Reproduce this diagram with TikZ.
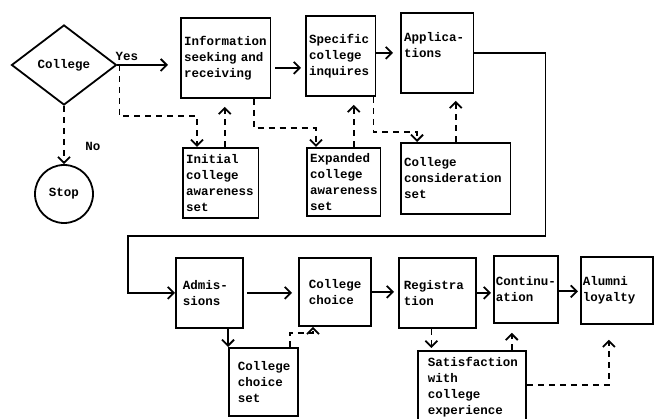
\documentclass[tikz,border=0pt]{standalone}
\usepackage{fontspec}
\setmonofont{Liberation Mono}
\usetikzlibrary{arrows.meta,positioning,shapes.geometric,calc}

\newcommand{\stagefont}{\ttfamily\bfseries\fontsize{12.5}{16}\selectfont}

\begin{document}
\begin{tikzpicture}[x=1pt, y=-1pt,
    stage/.style={draw, line width=1.8pt, anchor=north west, align=left,
                  inner ysep=0pt, font=\stagefont},
    arr/.style={line width=1.8pt, -{Straight Barb[length=6pt,width=12pt]}},
    dasharr/.style={arr, dash pattern=on 6pt off 5pt},
    tag/.style={font=\stagefont}]
    \useasboundingbox (0,0) rectangle (659,419);

    % Decision and exit
    \node[diamond, draw, line width=1.8pt, minimum width=105pt, minimum height=80pt,
          inner sep=0pt, font=\stagefont] (college) at (64,65) {College};
    \node[circle, draw, line width=1.8pt, minimum size=58pt, inner sep=0pt,
          font=\stagefont] (stop) at (64,194) {Stop};
    \node[tag] (no) at (93,146) {No};

    % Search stages (top row)
    \node[stage, minimum width=87pt, minimum height=80pt, text width=83pt] (info) at (180,17)
        {Information\\seeking and\\receiving};
    \node[stage, minimum width=67pt, minimum height=80pt, text width=63pt] (specific) at (305,15)
        {Specific\\college\\inquires};
    \node[stage, minimum width=70pt, minimum height=80pt, text width=66pt] (apps) at (400,12)
        {Applica-\\tions\\~};

    % Sets (second row)
    \node[stage, minimum width=73pt, minimum height=70pt, text width=69pt] (initial) at (182,147)
        {Initial\\college\\awareness\\set};
    \node[stage, minimum width=71pt, minimum height=68pt, text width=67pt] (expanded) at (306,147)
        {Expanded\\college\\awareness\\set};
    \node[stage, minimum width=107pt, minimum height=71pt, text width=103pt] (consid) at (400,142)
        {College\\consideration\\set};

    % Choice stages (third row)
    \node[stage, minimum width=67pt, minimum height=70pt, inner xsep=7pt, text width=53pt] (admis) at (175,257)
        {Admis-\\sions};
    \node[stage, minimum width=72pt, minimum height=68pt, inner xsep=10pt, text width=52pt] (choice) at (298,257)
        {College\\choice};
    \node[stage, minimum width=77pt, minimum height=70pt, inner xsep=5pt, text width=67pt] (regis) at (398,257)
        {Registra\\tion};
    \node[stage, minimum width=64pt, minimum height=67pt, inner xsep=2pt, text width=60pt] (contin) at (493,255)
        {Continu-\\ation};
    \node[stage, minimum width=72pt, minimum height=67pt, inner xsep=2pt, text width=68pt] (alumni) at (580,256)
        {Alumni\\loyalty};

    % Bottom row
    \node[stage, minimum width=69pt, minimum height=68pt, inner xsep=9pt, text width=51pt] (choiceset) at (228,347)
        {College\\choice\\set};
    \node[stage, minimum width=108pt, minimum height=72pt, inner xsep=10pt, text width=88pt] (satisf) at (417,350)
        {Satisfaction\\with\\college\\experience};

    % Main flow
    \draw[arr, shorten >=12pt] (college.east) -- node[tag, pos=0.15, above] (yes) {Yes} (college.east -| info.west);
    \draw[dasharr] (college.south) -- (stop.north);
    \draw[arr, shorten <=4pt, shorten >=4pt] ([yshift=-10pt]info.east) -- ([yshift=-10pt]info.east -| specific.west);
    \draw[arr, shorten >=7pt] ([yshift=3pt]specific.east) -- ([yshift=3pt]specific.east -| apps.west);
    \draw[arr] (apps.east) -- ++(71,0) -- ++(0,183) -| ([xshift=-47pt]admis.west) -- (admis.west);
    \draw[arr, shorten <=3pt, shorten >=6pt] (admis.east) -- (admis.east -| choice.west);
    \draw[arr, shorten >=4pt] (choice.east) -- (choice.east -| regis.west);
    \draw[arr, shorten >=2pt] (regis.east) -- (regis.east -| contin.west);
    \draw[arr, shorten >=2pt] ([yshift=-2pt]contin.east) -- ([yshift=-2pt]contin.east -| alumni.west);
    \draw[arr] (admis.south -| choiceset.north west) -- (choiceset.north west);

    % Dashed links to and from the sets
    \draw[dasharr] ([xshift=2pt]college.east) -- ++(0,51) -| ([xshift=15pt]initial.north west);
    \draw[dasharr, shorten >=8pt] ([xshift=4pt]initial.north) -- ([xshift=4pt]initial.north |- info.south);
    \draw[dasharr] ([xshift=28pt]info.south) -- ++(0,29) -| ([xshift=10pt]expanded.north west);
    \draw[dasharr, shorten >=8pt] ([xshift=10pt]expanded.north) -- ([xshift=10pt]expanded.north |- specific.south);
    \draw[dasharr] ([xshift=-3pt]specific.south east) -- ++(0,35) -| ([xshift=17pt]consid.north west);
    \draw[dasharr, shorten >=7pt] (consid.north) -- (consid.north |- apps.south);
    \draw[dasharr] ([xshift=-9pt]choiceset.north east) -- ++(0,-14) -| ([xshift=15pt]choice.south west);
    \draw[dasharr, shorten >=2pt] ([xshift=-6pt]regis.south) -- ([xshift=-6pt]regis.south |- satisf.north);
    \draw[dasharr, shorten >=9pt] ([xshift=-15pt]satisf.north east) -- ([xshift=-15pt]satisf.north east |- contin.south);
    \draw[dasharr, shorten >=15pt] ([yshift=2pt]satisf.east) -| ([xshift=-8pt]alumni.south);
\end{tikzpicture}
\end{document}
